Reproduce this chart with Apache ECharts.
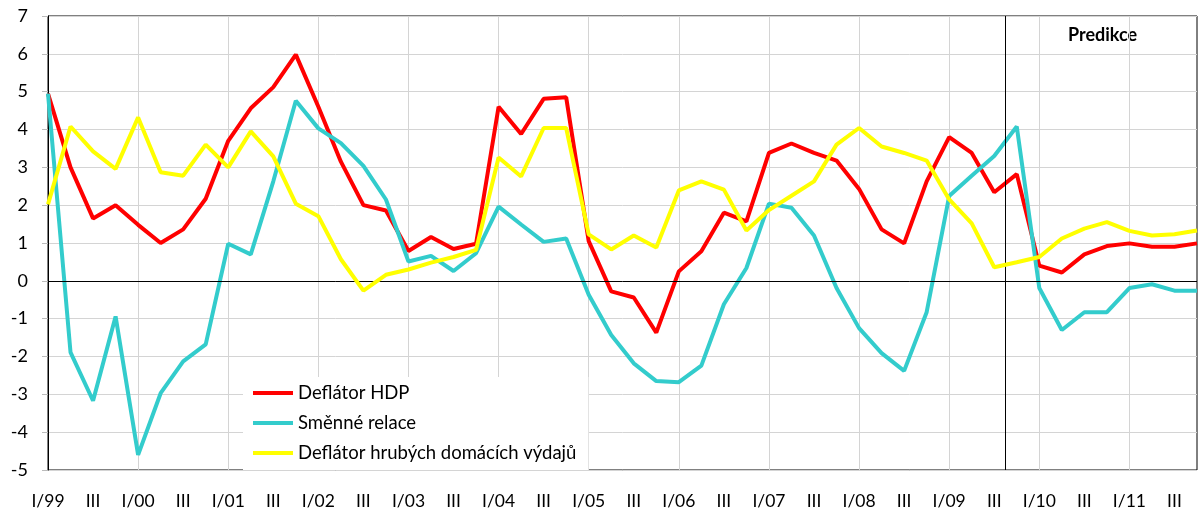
<!DOCTYPE html>
<html>
<head>
<meta charset="utf-8">
<script src="https://cdn.jsdelivr.net/npm/echarts@6/dist/echarts.min.js"></script>
<style>
html,body{margin:0;padding:0;background:#fff;}
#c{width:1201px;height:515px;}
</style>
</head>
<body>
<div id="c"></div>
<script>
const quarterNames = ['I','II','III','IV'];
const years = ['99','00','01','02','03','04','05','06','07','08','09','10','11'];
const categories = [];
years.forEach(y => quarterNames.forEach(q => categories.push(q + '/' + y)));

const seriesNames = ['Deflátor HDP','Směnné relace','Deflátor hrubých domácích výdajů'];

const deflatorHDP = [4.95,3.0,1.65,2.0,1.48,1.0,1.36,2.17,3.7,4.56,5.12,5.98,
  4.6,3.15,2.0,1.86,0.79,1.16,0.84,0.98,4.6,3.88,4.81,4.85,
  1.05,-0.28,-0.44,-1.37,0.25,0.78,1.8,1.57,3.38,3.63,3.38,3.18,
  2.43,1.36,0.99,2.63,3.8,3.38,2.34,2.82,0.4,0.22,0.7,0.92,
  0.99,0.9,0.9,0.99];

const smenneRelace = [4.95,-1.89,-3.17,-0.94,-4.6,-2.97,-2.13,-1.68,0.98,0.7,2.63,4.76,
  4.03,3.64,3.04,2.15,0.51,0.66,0.26,0.73,1.96,1.49,1.03,1.12,
  -0.37,-1.43,-2.18,-2.65,-2.68,-2.24,-0.62,0.34,2.04,1.93,1.2,-0.19,
  -1.25,-1.91,-2.38,-0.83,2.24,2.78,3.3,4.08,-0.19,-1.3,-0.83,-0.83,
  -0.19,-0.09,-0.26,-0.26];

const deflatorHDV = [2.02,4.08,3.42,2.96,4.32,2.87,2.78,3.6,3.0,3.95,3.29,2.04,
  1.71,0.57,-0.26,0.16,0.3,0.48,0.63,0.82,3.26,2.76,4.04,4.04,
  1.23,0.83,1.2,0.88,2.39,2.63,2.41,1.33,1.87,2.25,2.63,3.6,
  4.04,3.55,3.38,3.18,2.15,1.52,0.36,0.49,0.63,1.12,1.38,1.55,
  1.32,1.2,1.23,1.33];

const predictionStart = 42.5; // between III/09 and IV/09
const predictionLabel = 'Predikce';
const colors = ['#ff0000','#33cccc','#ffff00'];
const FONT = 'Lato';

const chart = echarts.init(document.getElementById('c'));
chart.setOption({
  animation: false,
  backgroundColor: '#fff',
  textStyle: {fontFamily: FONT},
  grid: {left: 48, right: 4, top: 16, bottom: 45, show: true, borderColor: '#000', borderWidth: 1, backgroundColor: 'transparent'},
  legend: {
    data: seriesNames,
    orient: 'vertical',
    left: 243, top: 377,
    padding: [6, 12, 7, 10],
    itemGap: 10,
    itemWidth: 40, itemHeight: 4,
    icon: 'rect',
    backgroundColor: '#fff',
    textStyle: {fontFamily: FONT, fontSize: 18.5, color: '#000', lineHeight: 20}
  },
  xAxis: [{
    type: 'category',
    data: categories,
    boundaryGap: false,
    axisLine: {show: false},
    axisTick: {show: false},
    axisLabel: {
      interval: 1, margin: 22, fontSize: 17.5, color: '#000', fontFamily: FONT,
      formatter: v => v.startsWith('III/') ? 'III' : v
    },
    splitLine: {show: true, interval: 3, lineStyle: {color: '#d4d4d4', width: 1}}
  }, {
    type: 'value', min: 0, max: categories.length - 1, show: false
  }],
  yAxis: {
    type: 'value', min: -5, max: 7, interval: 1,
    axisLine: {show: true, lineStyle: {color: '#000'}},
    axisTick: {show: true, length: 6, lineStyle: {color: '#bbb'}},
    axisLabel: {fontSize: 18, color: '#000', margin: 20, fontFamily: FONT},
    splitLine: {show: true, lineStyle: {color: '#d4d4d4', width: 1}}
  },
  graphic: [{
    type: 'text', left: 1068, top: 26,
    style: {text: predictionLabel, font: 'bold 18px ' + FONT, fill: '#000'}
  }],
  series: [
    {
      name: 'helper', type: 'line', xAxisIndex: 1, yAxisIndex: 0, data: [], z: 1,
      markLine: {
        silent: true, symbol: 'none', label: {show: false},
        lineStyle: {color: '#000', width: 1, type: 'solid'},
        data: [{yAxis: 0}, {xAxis: predictionStart}]
      }
    },
    {name: seriesNames[0], type: 'line', data: deflatorHDP, showSymbol: false, lineStyle: {width: 4, color: colors[0]}, itemStyle: {color: colors[0]}, z: 3},
    {name: seriesNames[1], type: 'line', data: smenneRelace, showSymbol: false, lineStyle: {width: 4, color: colors[1]}, itemStyle: {color: colors[1]}, z: 4},
    {name: seriesNames[2], type: 'line', data: deflatorHDV, showSymbol: false, lineStyle: {width: 4, color: colors[2]}, itemStyle: {color: colors[2]}, z: 5}
  ]
});
</script>
</body>
</html>
